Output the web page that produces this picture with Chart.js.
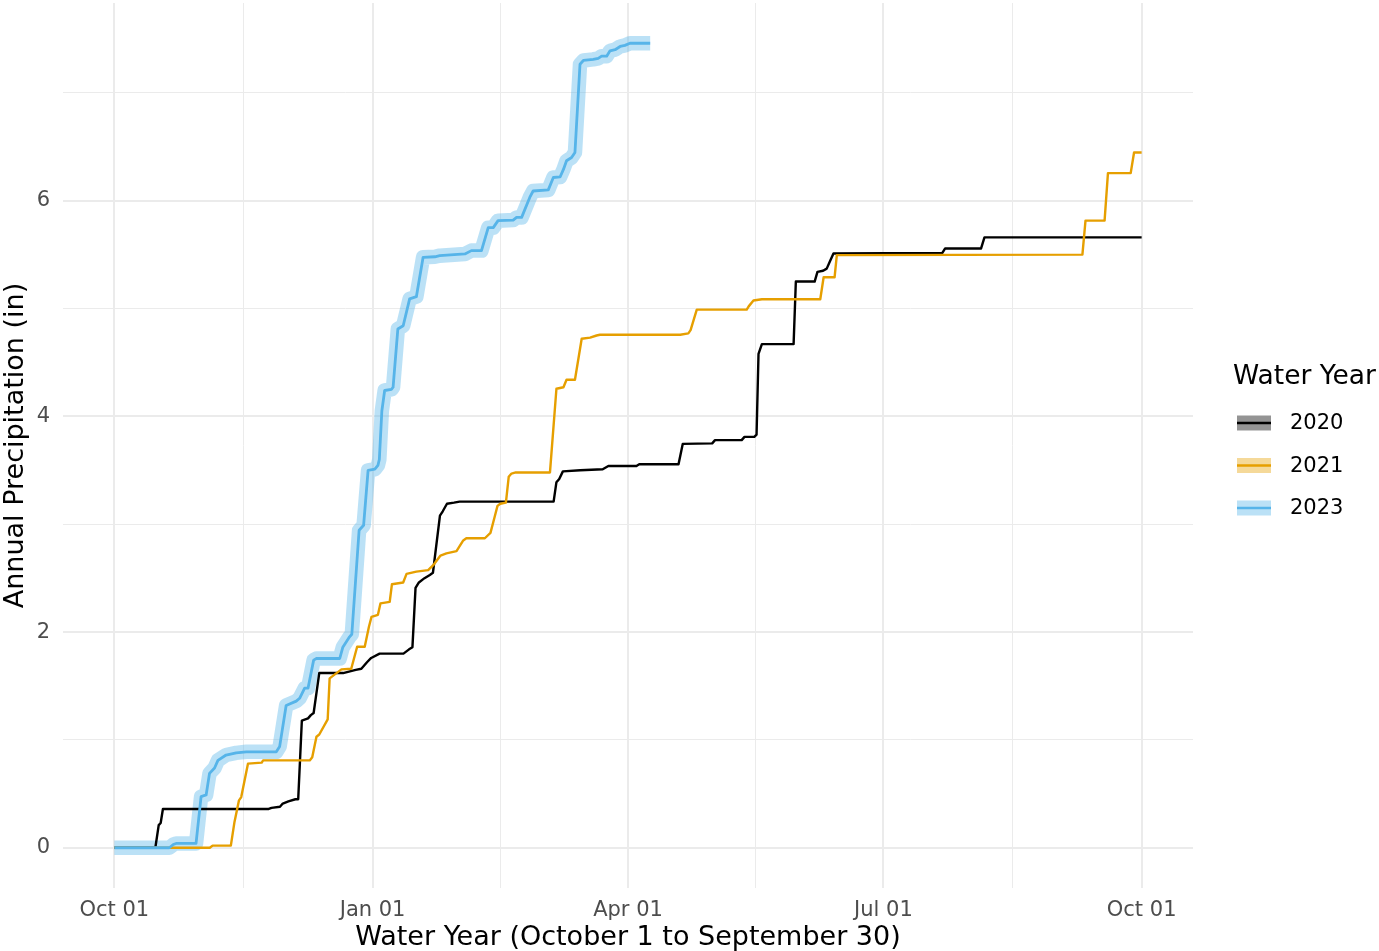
<!DOCTYPE html>
<html>
<head>
<meta charset="utf-8">
<script src="https://cdn.jsdelivr.net/npm/chart.js@4/dist/chart.umd.min.js"></script>
<style>
  html, body { margin: 0; padding: 0; background: #ffffff; }
  canvas { display: block; }
</style>
</head>
<body>
<canvas id="c" width="1379" height="951"></canvas>
<script>
// ---------------- DATA (day of water year since Oct 01, cumulative inches) ----------------
const seriesNames = ['2020', '2021', '2023'];

const days2020 = [0, 14.6, 15.8, 16.5, 17.3, 55, 56, 59, 60, 62, 64.5, 65.5, 66.8, 69, 70, 71, 73,
  81.5, 86, 88, 90, 91.5, 94.5, 103, 105, 106.2, 107.3, 108.5, 110.5, 112.4, 113.5, 116, 117, 118.5, 121, 123,
  156.5, 157.5, 158.5, 159.8, 166, 174, 176, 186, 187, 201, 202.5, 213, 214, 223.5, 224.5, 228, 228.8,
  229.5, 230.7, 242, 242.8, 249.5, 250.5, 252.5, 253.8, 255, 256.2, 295, 296, 308.8, 310, 366];
const precip2020 = [0, 0, 0.21, 0.23, 0.36, 0.36, 0.37, 0.38, 0.41, 0.43, 0.45, 0.45, 1.18, 1.2, 1.23, 1.25, 1.62,
  1.62, 1.65, 1.66, 1.72, 1.76, 1.80, 1.80, 1.84, 1.86, 2.41, 2.46, 2.50, 2.53, 2.55, 3.08, 3.12, 3.19, 3.20, 3.21,
  3.21, 3.39, 3.42, 3.49, 3.50, 3.51, 3.54, 3.54, 3.556, 3.556, 3.745, 3.75, 3.78, 3.78, 3.81, 3.81, 3.83,
  4.58, 4.67, 4.67, 5.25, 5.25, 5.34, 5.35, 5.37, 5.44, 5.51, 5.515, 5.557, 5.557, 5.66, 5.66];

const days2021 = [0, 34, 35, 41.5, 42.8, 44.4, 45.2, 47.6, 52.5, 53, 69.6, 70.5, 72, 73, 76, 76.7, 80.9, 84.4,
  86.5, 89.2, 90.7, 91.6, 93.9, 94.8, 98.1, 98.9, 102.9, 104.1, 107.6, 111.8, 113.6, 116.2, 118.3, 121.9, 124.3,
  125.4, 132, 134, 135.5, 136.5, 137.5, 139.5, 140.5, 141.5, 143, 155.2, 157.5, 160, 161.1, 164.1, 166.5, 169.5,
  171.8, 173, 201.6, 204.5, 205.3, 207.5, 225.3, 226, 227.7, 230.7, 251.5, 252.7, 256.6, 257.4, 344.9, 346,
  352.8, 354, 362.1, 363.3, 366];
const precip2021 = [0, 0, 0.02, 0.02, 0.24, 0.44, 0.47, 0.78, 0.79, 0.81, 0.81, 0.84, 1.03, 1.05, 1.19, 1.571, 1.654, 1.66,
  1.864, 1.864, 2.05, 2.14, 2.16, 2.266, 2.28, 2.444, 2.46, 2.54, 2.56, 2.574, 2.62, 2.71, 2.73, 2.75, 2.85,
  2.87, 2.87, 2.92, 3.07, 3.17, 3.19, 3.20, 3.44, 3.47, 3.48, 3.48, 4.256, 4.27, 4.34, 4.34, 4.72, 4.73,
  4.75, 4.757, 4.757, 4.77, 4.80, 4.99, 4.99, 5.02, 5.074, 5.086, 5.086, 5.29, 5.29, 5.495, 5.50, 5.815,
  5.815, 6.256, 6.256, 6.447, 6.447];

const days2023 = [0, 19.6, 21, 22, 29.1, 30.9, 32.7, 33.9, 35.7, 36.9, 39.8, 43.4, 47, 57.7, 58.9, 61.2, 64.8,
  66, 67.8, 69, 71, 72, 80.3, 81.4, 83.8, 84.6, 87.2, 88.8, 90.4, 92.8, 93.9, 94.4, 95.3, 96.3, 98.7, 99.3,
  101, 102.9, 105.2, 107.6, 110, 114.2, 115.9, 124.9, 127.2, 130.8, 133.2, 135, 136.7, 142.1, 143.3, 145.1,
  148, 149.2, 154.6, 156.4, 158.8, 160, 161.1, 162.9, 164.1, 165.9, 167.1, 170.6, 172.4, 173.6, 175.4,
  176.6, 178.4, 180.2, 181.9, 183.7, 190.9];
const precip2023 = [0, 0, 0.03, 0.04, 0.04, 0.475, 0.49, 0.69, 0.74, 0.81, 0.86, 0.88, 0.89, 0.89, 0.94, 1.32, 1.36,
  1.386, 1.48, 1.48, 1.74, 1.755, 1.755, 1.86, 1.956, 1.98, 2.944, 2.99, 3.50, 3.51, 3.546, 3.60, 4.05, 4.24, 4.25, 4.27,
  4.81, 4.84, 5.09, 5.11, 5.475, 5.48, 5.49, 5.506, 5.537, 5.537, 5.75, 5.75, 5.815, 5.82, 5.845, 5.845,
  6.03, 6.09, 6.10, 6.215, 6.22, 6.29, 6.37, 6.40, 6.447, 7.265, 7.30, 7.31, 7.32, 7.34, 7.34,
  7.39, 7.40, 7.43, 7.44, 7.46, 7.46];

const xTickDays = [0, 92, 183, 274, 366];
const xTickLabels = ['Oct 01', 'Jan 01', 'Apr 01', 'Jul 01', 'Oct 01'];
const xMinorDays = [46, 137.5, 228.5, 320];
const yTickValues = [0, 2, 4, 6];
const yTickLabels = ['0', '2', '4', '6'];
const yMinorValues = [1, 3, 5, 7];

// ---------------- STYLE ----------------
const STYLE = {
  font: 'DejaVu Sans',
  lineColors: ['#000000', '#E69F00', '#56B4E9'],
  bandColors: ['rgba(0,0,0,0.42)', 'rgba(230,159,0,0.4)', 'rgba(86,180,233,0.4)'],
  gridColor: '#EBEBEB',
  tickColor: '#4D4D4D'
};

const toPts = (d, v) => d.map((x, i) => ({ x: x, y: v[i] }));

const datasets = [
  { label: '2023 band', data: toPts(days2023, precip2023), borderColor: STYLE.bandColors[2], borderWidth: 14.5, order: 4 },
  { label: seriesNames[0], data: toPts(days2020, precip2020), borderColor: STYLE.lineColors[0], borderWidth: 2.4, order: 3 },
  { label: seriesNames[1], data: toPts(days2021, precip2021), borderColor: STYLE.lineColors[1], borderWidth: 2.4, order: 2 },
  { label: seriesNames[2], data: toPts(days2023, precip2023), borderColor: STYLE.lineColors[2], borderWidth: 2.8, order: 1 }
].map(d => Object.assign(d, { pointRadius: 0, tension: 0, fill: false, borderCapStyle: 'butt', borderJoinStyle: 'round' }));

const isMajorX = v => xTickDays.indexOf(v) >= 0;
const isMajorY = v => yTickValues.indexOf(v) >= 0;

const legendPlugin = {
  id: 'ggLegend',
  afterDraw(chart) {
    const ctx = chart.ctx;
    ctx.save();
    ctx.textBaseline = 'middle';
    ctx.textAlign = 'left';
    ctx.fillStyle = '#000000';
    ctx.font = '26.5px "' + STYLE.font + '"';
    ctx.fillText('Water Year', 1233, 377);
    ctx.font = '21px "' + STYLE.font + '"';
    seriesNames.forEach((name, i) => {
      const cy = 423 + i * 42.5;
      ctx.fillStyle = STYLE.bandColors[i];
      ctx.fillRect(1237, cy - 7.5, 34, 15);
      ctx.strokeStyle = STYLE.lineColors[i];
      ctx.lineWidth = 2.6;
      ctx.beginPath();
      ctx.moveTo(1237, cy);
      ctx.lineTo(1271, cy);
      ctx.stroke();
      ctx.fillStyle = '#000000';
      ctx.fillText(name, 1290, cy + 1);
    });
    ctx.restore();
  }
};

new Chart(document.getElementById('c'), {
  type: 'line',
  data: { datasets: datasets },
  options: {
    responsive: false,
    animation: false,
    devicePixelRatio: 1,
    layout: { padding: { left: 0, right: 186, top: 3, bottom: 0 } },
    plugins: { legend: { display: false }, tooltip: { enabled: false } },
    scales: {
      x: {
        type: 'linear',
        min: -18.3,
        max: 384.3,
        afterFit: s => { s.height = 63; s.paddingLeft = 0; s.paddingRight = 0; s.paddingTop = 0; s.paddingBottom = 0; },
        afterBuildTicks: s => { s.ticks = xTickDays.concat(xMinorDays).sort((a, b) => a - b).map(v => ({ value: v })); },
        ticks: {
          autoSkip: false, maxRotation: 0, minRotation: 0, padding: 10,
          color: STYLE.tickColor, font: { family: STYLE.font, size: 21 },
          callback: v => { const i = xTickDays.indexOf(v); return i >= 0 ? xTickLabels[i] : ''; }
        },
        grid: {
          drawTicks: false,
          color: STYLE.gridColor,
          lineWidth: c => (c.tick && isMajorX(c.tick.value)) ? 2 : 1
        },
        border: { display: false },
        title: {
          display: true, text: 'Water Year (October 1 to September 30)', color: '#000000',
          font: { family: STYLE.font, size: 27, lineHeight: 1 }, padding: 0
        }
      },
      y: {
        type: 'linear',
        min: -0.373,
        max: 7.833,
        afterFit: s => { s.width = 63; s.paddingLeft = 0; s.paddingRight = 0; s.paddingTop = 0; s.paddingBottom = 0; },
        afterBuildTicks: s => { s.ticks = yTickValues.concat(yMinorValues).sort((a, b) => a - b).map(v => ({ value: v })); },
        ticks: {
          autoSkip: false, padding: 13,
          color: STYLE.tickColor, font: { family: STYLE.font, size: 21 },
          callback: v => { const i = yTickValues.indexOf(v); return i >= 0 ? yTickLabels[i] : ''; }
        },
        grid: {
          drawTicks: false,
          color: STYLE.gridColor,
          lineWidth: c => (c.tick && isMajorY(c.tick.value)) ? 2 : 1
        },
        border: { display: false },
        title: {
          display: true, text: 'Annual Precipitation (in)', color: '#000000',
          font: { family: STYLE.font, size: 27, lineHeight: 1.2 }, padding: 0
        }
      }
    }
  },
  plugins: [legendPlugin]
});
</script>
</body>
</html>
